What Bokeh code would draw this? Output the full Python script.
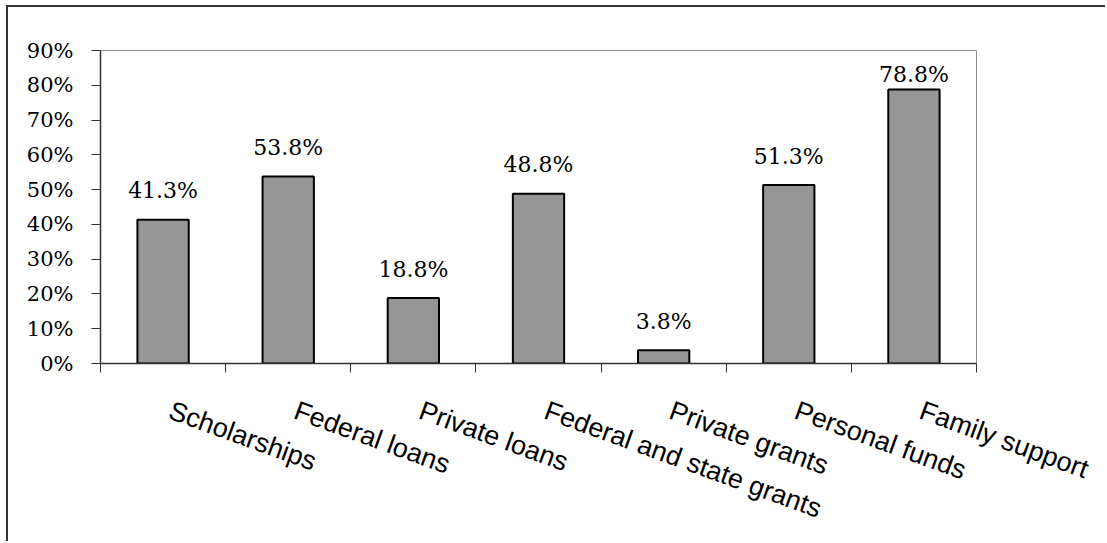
from bokeh.plotting import figure
from bokeh.models import ColumnDataSource, FixedTicker, PrintfTickFormatter, Range1d
from bokeh.core.properties import value
from bokeh.embed import file_html
from bokeh.resources import INLINE

categories = ["Scholarships", "Federal loans", "Private loans", "Federal and state grants",
              "Private grants", "Personal funds", "Family support"]
percent = [41.3, 53.8, 18.8, 48.8, 3.8, 51.3, 78.8]
y_ticks = [0, 10, 20, 30, 40, 50, 60, 70, 80, 90]

SERIF = "DejaVu Serif"
SANS = "Liberation Sans"

W, H = 1099, 536
FL, FT = 92, 43
FW, FH = 876, 313
FR, FB = W - FL - FW, H - FT - FH
y_max = 90
px_per_unit = FH / y_max
cat_px = FW / len(categories)

centers = [i + 0.5 for i in range(len(categories))]
labels = ["%.1f%%" % v for v in percent]
# label gap above bar: ~20 px, reduced when close to the top of the plot area
gaps = [-(min(20.0, (y_max - v) * px_per_unit - 33) + 9) for v in percent]

src = ColumnDataSource(dict(x=centers, top=percent, label=labels, gap=gaps))

p = figure(width=W, height=H, output_backend="svg", toolbar_location=None,
           x_range=Range1d(0, len(categories)), y_range=Range1d(0, y_max),
           min_border_left=FL, min_border_right=FR, min_border_top=FT, min_border_bottom=FB)
p.margin = (5, 0, 0, 6)
p.styles = {"border-left": "2px solid #333333", "border-top": "2px solid #333333"}
p.background_fill_color = "white"
p.border_fill_color = "white"
p.outline_line_color = "#8c8c8c"
p.outline_line_width = 1
p.xgrid.visible = False
p.ygrid.visible = False

p.vbar(x="x", top="top", width=0.41, bottom=0, source=src,
       fill_color="#969696", line_color="black", line_width=2)

p.text(x="x", y="top", text="label", y_offset="gap", source=src,
       text_align="center", text_baseline="alphabetic",
       text_font=value(SERIF), text_font_size="22px", text_color="black")

# y axis
ya = p.yaxis[0]
ya.ticker = FixedTicker(ticks=y_ticks)
ya.formatter = PrintfTickFormatter(format="%d%%")
ya.major_label_text_font = SERIF
ya.major_label_text_font_size = "21px"
ya.major_label_text_color = "black"
ya.major_tick_out = 9
ya.major_tick_in = 0
ya.minor_tick_line_color = None
ya.major_label_standoff = 18
ya.axis_line_color = "#333333"
ya.major_tick_line_color = "#333333"
ya.axis_line_width = 1.5

# x axis: labels start slightly right of the category centre, ticks at boundaries
label_pos = [c + 7.0 / cat_px for c in centers]
xa = p.xaxis[0]
xa.ticker = FixedTicker(ticks=label_pos, minor_ticks=list(range(len(categories) + 1)))
xa.major_label_overrides = {t: n for t, n in zip(label_pos, categories)}
xa.major_label_orientation = -0.349
xa.major_label_text_font = SANS
xa.major_label_text_font_size = "27px"
xa.major_label_text_color = "black"
xa.major_tick_line_color = None
xa.major_tick_out = 0
xa.major_tick_in = 0
xa.minor_tick_out = 9
xa.minor_tick_in = 0
xa.minor_tick_line_color = "#333333"
xa.major_label_standoff = 37
xa.axis_line_color = "#333333"
xa.axis_line_width = 1.5

open("out.html", "w").write(file_html(p, INLINE))
